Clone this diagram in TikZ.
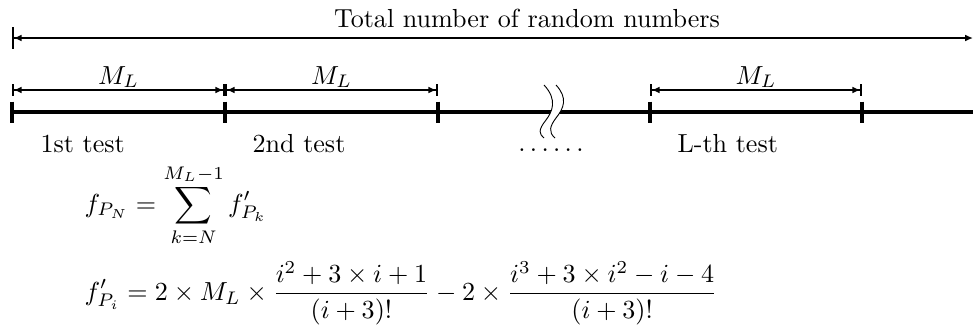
\documentclass[tikz,border=0pt]{standalone}
\usetikzlibrary{arrows.meta}
\begin{document}
\begin{tikzpicture}[x=0.3834pt,y=-0.3834pt,
  dimarrow/.style={line width=0.65pt,{Bar[width=4.4pt]Latex[length=3pt,width=2.6pt,sep=0pt]}-{Latex[length=3pt,width=2.6pt,sep=0pt]Bar[width=4.4pt]}},
  totarrow/.style={line width=0.65pt,{Bar[width=8.4pt]Latex[length=3pt,width=2.6pt,sep=0pt]}-{Latex[length=3pt,width=2.6pt]}},
  mainline/.style={line width=1.2pt},
  tick/.style={line width=1.6pt},
  lbl/.style={inner sep=0pt,anchor=base},
  tlbl/.style={inner sep=0pt,anchor=base west},
  brk/.style={line width=0.35pt}]
\useasboundingbox (0,0) rectangle (973,329);
% total arrow
\coordinate (t0) at (12,38);
\coordinate (t1) at (973,38);
\draw[totarrow] (t0) -- (t1);
\node[lbl] (title) at (527,28) {Total number of random numbers};
% main line
\coordinate (m0) at (12,112);
\coordinate (m1) at (973,112);
\draw[mainline] (m0) -- (m1);
\foreach \x/\n in {12/a,225/b,438/c,650/d,862/e}{
  \coordinate (p\n) at (\x,112);
  \draw[tick] (\x,101.5) -- (\x,122.5);
}
% dimension arrows
\coordinate (d0) at (12,90);
\coordinate (d1) at (225,90);
\coordinate (d2) at (438,90);
\coordinate (d3) at (650,90);
\coordinate (d4) at (862,90);
\draw[dimarrow] (d0) -- (d1);
\draw[dimarrow] (d1) -- (d2);
\draw[dimarrow] (d3) -- (d4);
\node[lbl] (ml1) at (118.5,84) {$M_L$};
\node[lbl] (ml2) at (331.5,84) {$M_L$};
\node[lbl] (ml3) at (756,84) {$M_L$};
% break
\fill[white] (544,85) .. controls (558,100) and (552,112) .. (546,120)
  .. controls (538,130) and (539,134) .. (544,138) -- (555,138)
  .. controls (548,132) and (550,126) .. (556,118)
  .. controls (564,108) and (568,98) .. (556,85) -- cycle;
\draw[brk] (544,85) .. controls (558,100) and (552,112) .. (546,120)
  .. controls (538,130) and (539,134) .. (544,138);
\draw[brk] (556,85) .. controls (568,98) and (564,108) .. (556,118)
  .. controls (550,126) and (548,132) .. (555,138);
% labels
\node[tlbl] (l1) at (40,152) {1st test};
\node[tlbl] (l2) at (252,152) {2nd test};
\node[lbl] (dots) at (551,151) {$\ldots\ldots$};
\node[tlbl] (l3) at (677,152) {L-th test};
% formulas
\node[inner sep=0pt,anchor=west] (f1) at (84,205) {$\displaystyle f_{P_N} = \sum_{k=N}^{M_L-1} f'_{P_k}$};
\node[inner sep=0pt,anchor=west] (f2) at (84,293) {$\displaystyle f'_{P_i} = 2\times M_L\times\frac{i^2+3\times i+1}{(i+3)!}-2\times\frac{i^3+3\times i^2-i-4}{(i+3)!}$};
\end{tikzpicture}
\end{document}
